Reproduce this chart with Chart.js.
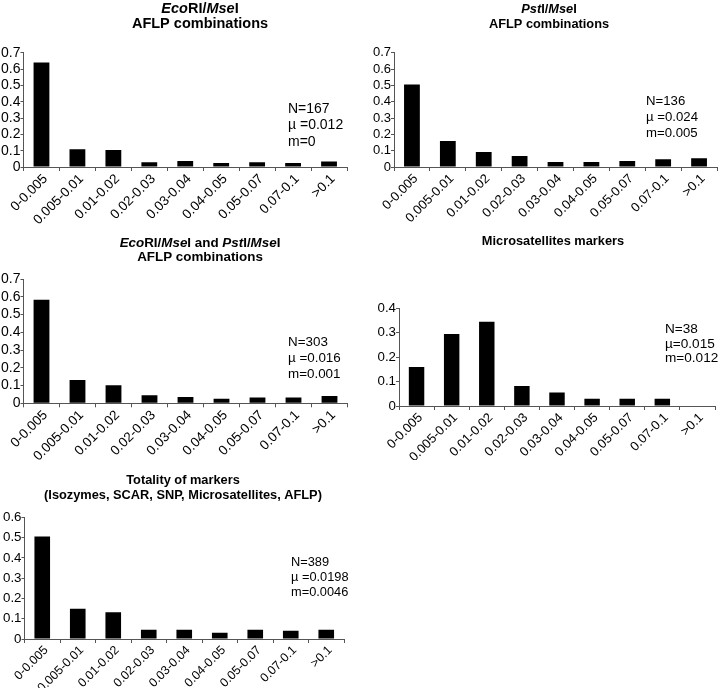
<!DOCTYPE html>
<html>
<head>
<meta charset="utf-8">
<script src="https://cdn.jsdelivr.net/npm/chart.js@4.4.1/dist/chart.umd.min.js"></script>
<style>
  body { margin: 0; background: #fff; }
  #wrap { position: relative; width: 720px; height: 688px; overflow: hidden; }
  canvas { position: absolute; }
</style>
</head>
<body>
<div id="wrap">
  <canvas id="c1" width="360" height="230" style="left:0;top:0"></canvas>
  <canvas id="c2" width="360" height="230" style="left:360px;top:0"></canvas>
  <canvas id="c3" width="360" height="230" style="left:0;top:230px"></canvas>
  <canvas id="c4" width="360" height="230" style="left:360px;top:230px"></canvas>
  <canvas id="c5" width="360" height="228" style="left:0;top:460px"></canvas>
</div>
<script>
// distance classes (x axis)
const categories = ['0-0.005', '0.005-0.01', '0.01-0.02', '0.02-0.03', '0.03-0.04', '0.04-0.05', '0.05-0.07', '0.07-0.1', '>0.1'];

// frequencies
const ecoMse = [0.64, 0.108, 0.104, 0.029, 0.037, 0.024, 0.029, 0.024, 0.033];
const pstMse = [0.505, 0.159, 0.092, 0.067, 0.031, 0.031, 0.037, 0.047, 0.053];
const bothAflp = [0.583, 0.131, 0.101, 0.045, 0.035, 0.026, 0.032, 0.032, 0.041];
const microsat = [0.16, 0.295, 0.345, 0.082, 0.055, 0.03, 0.03, 0.03, 0];
const allMarkers = [0.505, 0.149, 0.132, 0.046, 0.046, 0.031, 0.046, 0.041, 0.046];

// y axis tops, ticks every 0.1
const yMax = [0.7, 0.7, 0.7, 0.4, 0.6];
const yStep = 0.1;

// titles: runs of [text, italic]
const title1 = [[['Eco', true], ['RI/', false], ['Mse', true], ['I', false]], [['AFLP combinations', false]]];
const title2 = [[['Pst', true], ['I/', false], ['Mse', true], ['I', false]], [['AFLP combinations', false]]];
const title3 = [[['Eco', true], ['RI/', false], ['Mse', true], ['I and ', false], ['Pst', true], ['I/', false], ['Mse', true], ['I', false]], [['AFLP combinations', false]]];
const title4 = [[['Microsatellites markers', false]]];
const title5 = [[['Totality of markers', false]], [['(Isozymes, SCAR, SNP, Microsatellites, AFLP)', false]]];

// summary statistics
const stats1 = ['N=167', '\u00b5 =0.012', 'm=0'];
const stats2 = ['N=136', '\u00b5 =0.024', 'm=0.005'];
const stats3 = ['N=303', '\u00b5 =0.016', 'm=0.001'];
const stats4 = ['N=38', '\u00b5=0.015', 'm=0.012'];
const stats5 = ['N=389', '\u00b5 =0.0198', 'm=0.0046'];

const FONT = '"Liberation Sans", Arial, Helvetica, sans-serif';
Chart.defaults.font.family = FONT;
Chart.defaults.color = '#000';

// draws the title (mixed italic) and the stats block
function decor(lay, title, stats) {
  return {
    id: 'decor',
    afterDraw(chart) {
      const c = chart.ctx;
      c.save();
      c.fillStyle = '#000';
      c.textBaseline = 'middle';
      c.textAlign = 'left';
      title.forEach((runs, i) => {
        let w = 0;
        runs.forEach(r => {
          c.font = (r[1] ? 'italic ' : '') + 'bold ' + lay.titleSize + 'px ' + FONT;
          w += c.measureText(r[0]).width;
        });
        let x = lay.titleX - w / 2;
        runs.forEach(r => {
          c.font = (r[1] ? 'italic ' : '') + 'bold ' + lay.titleSize + 'px ' + FONT;
          c.fillText(r[0], x, lay.titleY[i]);
          x += c.measureText(r[0]).width;
        });
      });
      c.font = lay.noteSize + 'px ' + FONT;
      stats.forEach((t, i) => c.fillText(t, lay.noteX, lay.noteY + i * lay.noteGap));
      c.restore();
    }
  };
}

function makeChart(id, values, max, title, stats, lay) {
  return new Chart(document.getElementById(id), {
    type: 'bar',
    data: {
      labels: categories,
      datasets: [{
        data: values,
        backgroundColor: '#000',
        borderWidth: 0,
        categoryPercentage: 1,
        barPercentage: 0.44
      }]
    },
    options: {
      responsive: false,
      animation: false,
      layout: { padding: { left: 0, right: lay.padR, top: lay.padT, bottom: 0 } },
      plugins: { legend: { display: false }, tooltip: { enabled: false } },
      scales: {
        x: {
          ticks: { minRotation: 45, maxRotation: 45, autoSkip: false, padding: 0, labelOffset: 4, font: { size: lay.xFont } },
          grid: { drawOnChartArea: false, tickLength: 4, color: '#555', offset: true },
          border: { color: '#555' },
          afterFit(s) { s.height = lay.xh; s.paddingLeft = 0; s.paddingRight = 0; }
        },
        y: {
          min: 0,
          max: max,
          ticks: { stepSize: yStep, autoSkip: false, padding: 0, font: { size: lay.yFont } },
          grid: { drawOnChartArea: false, tickLength: 3, color: '#555' },
          border: { color: '#555' },
          afterFit(s) { s.width = lay.yw; s.paddingTop = 0; s.paddingBottom = 0; }
        }
      }
    },
    plugins: [decor(lay, title, stats)]
  });
}

makeChart('c1', ecoMse, yMax[0], title1, stats1, {
  yw: 23.5, padR: 13, padT: 52.7, xh: 63, xFont: 13.5, yFont: 14,
  titleSize: 14.5, titleX: 200, titleY: [9, 24],
  noteSize: 14, noteX: 288, noteY: 109, noteGap: 16.5
});
makeChart('c2', pstMse, yMax[1], title2, stats2, {
  yw: 34, padR: 3, padT: 52.7, xh: 63, xFont: 13, yFont: 13,
  titleSize: 12.8, titleX: 189, titleY: [9, 24],
  noteSize: 13.2, noteX: 286, noteY: 101, noteGap: 16
});
makeChart('c3', bothAflp, yMax[2], title3, stats3, {
  yw: 23.5, padR: 12.5, padT: 49, xh: 56.7, xFont: 13.5, yFont: 14,
  titleSize: 13.4, titleX: 200, titleY: [13.3, 27.7],
  noteSize: 13.4, noteX: 288, noteY: 112.7, noteGap: 15.7
});
makeChart('c4', microsat, yMax[3], title4, stats4, {
  yw: 39, padR: 5, padT: 78.3, xh: 54, xFont: 13, yFont: 13.3,
  titleSize: 12.8, titleX: 193, titleY: [11.7],
  noteSize: 13.6, noteX: 305, noteY: 99.3, noteGap: 14.5
});
makeChart('c5', allMarkers, yMax[4], title5, stats5, {
  yw: 24.5, padR: 16, padT: 57.3, xh: 49, xFont: 12.4, yFont: 13.3,
  titleSize: 12.8, titleX: 183, titleY: [20.7, 35],
  noteSize: 12.8, noteX: 291, noteY: 102.3, noteGap: 15.2
});
</script>
</body>
</html>
